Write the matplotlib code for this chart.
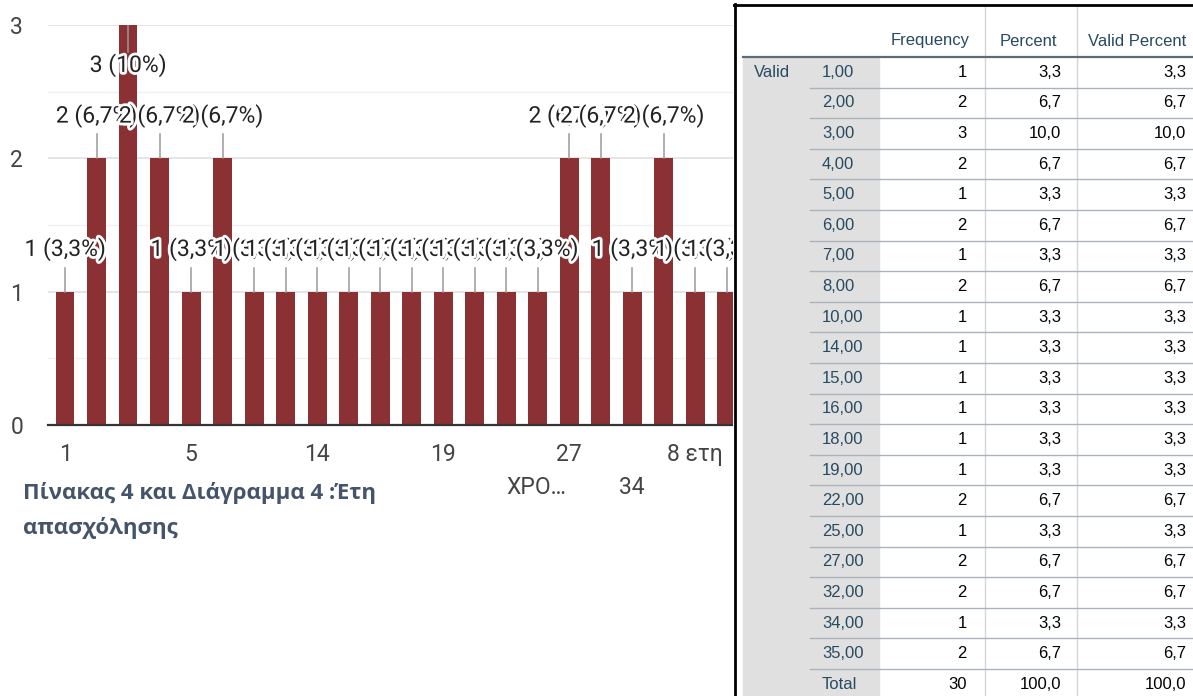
import numpy as np
import matplotlib
matplotlib.use("Agg")
import matplotlib.pyplot as plt
import matplotlib.patheffects as pe
from matplotlib.patches import Rectangle

# --- Google Forms bar chart (left) ---
categories = ["1", "2", "3", "4", "5", "6", "7", "10", "14", "15", "16",
              "18", "19", "22", "ΧΡΟ…", "25", "27", "32", "34", "35",
              "8 ετη", "22 χρόνια"]
counts = [1, 2, 3, 2, 1, 2, 1, 1, 1, 1, 1, 1, 1, 1, 1, 1, 2, 2, 1, 2, 1, 1]
total_answers = 30
ticks_row1 = [0, 4, 8, 12, 16, 20]
ticks_row2 = [14, 18]

# --- SPSS frequency table (right) ---
table_values = ["1,00", "2,00", "3,00", "4,00", "5,00", "6,00", "7,00", "8,00",
                "10,00", "14,00", "15,00", "16,00", "18,00", "19,00", "22,00",
                "25,00", "27,00", "32,00", "34,00", "35,00", "Total"]
table_freq = ["1", "2", "3", "2", "1", "2", "1", "2", "1", "1", "1", "1", "1",
              "1", "2", "1", "2", "2", "1", "2", "30"]
table_pct = ["3,3", "6,7", "10,0", "6,7", "3,3", "6,7", "3,3", "6,7", "3,3",
             "3,3", "3,3", "3,3", "3,3", "3,3", "6,7", "3,3", "6,7", "6,7",
             "3,3", "6,7", "100,0"]
table_valid_pct = table_pct
table_headers = ["Frequency", "Percent", "Valid Percent"]

caption_lines = ["Πίνακας 4 και Διάγραμμα 4 :Έτη", "απασχόλησης"]

BAR = "#8b3033"
W, H = 1193, 696
FS = 16.5

plt.rcParams["font.family"] = ["Roboto", "DejaVu Sans"]

fig = plt.figure(figsize=(W / 100, H / 100), dpi=100)
fig.patch.set_facecolor("white")

ax = fig.add_axes([48 / W, (H - 425) / H, (733 - 48) / W, 400 / H])
x = np.arange(len(counts))
ax.bar(x, counts, width=0.6, color=BAR, zorder=2)
ax.set_xlim(-0.54, 21.2)
ax.set_ylim(0, 3)

ax.set_yticks([0, 1, 2, 3])
ax.set_yticks([0.5, 1.5, 2.5], minor=True)
ax.grid(axis="y", which="major", color="#e3e3e3", lw=1.3)
ax.grid(axis="y", which="minor", color="#f0f0f0", lw=1.0)
ax.set_axisbelow(True)
for s in ["top", "right", "left"]:
    ax.spines[s].set_visible(False)
ax.spines["bottom"].set_color("#333333")
ax.spines["bottom"].set_linewidth(1.6)
ax.spines["bottom"].set_zorder(5)

ax.tick_params(axis="y", which="both", length=0, pad=18, labelsize=FS,
               labelcolor="#444444")
ax.set_xticks(ticks_row1, [categories[i] for i in ticks_row1])
ax.set_xticks(ticks_row2, [categories[i] for i in ticks_row2], minor=True)
ax.tick_params(axis="x", which="major", length=0, pad=13, labelsize=FS,
               labelcolor="#444444")
ax.tick_params(axis="x", which="minor", length=0, pad=37, labelsize=FS,
               labelcolor="#444444")
for lbl in ax.get_xticklabels(minor=True):
    if lbl.get_text().endswith("…"):
        lbl.set_ha("left")

# data labels with leader lines and white halo
halo = [pe.withStroke(linewidth=4, foreground="white")]
for i, n in enumerate(counts):
    pct = f"{n / total_answers * 100:.1f}".replace(".", ",")
    if pct.endswith(",0"):
        pct = pct[:-2]
    if n + 0.35 <= ax.get_ylim()[1]:
        ly, lend = n + 0.32, n + 0.18
    else:
        ly, lend = n - 0.3, n - 0.2
    ax.plot([i, i], [n, lend], color="#9a9a9a", lw=1.1, zorder=3)
    ax.text(i, ly, f"{n} ({pct}%)", ha="center", va="center", fontsize=FS,
            color="#222222", zorder=4, path_effects=halo)

# caption
for k, line in enumerate(caption_lines):
    fig.text(23 / W, 1 - (493 + 35 * k) / H, line, fontsize=16,
             fontweight="bold", color="#44546a", family="Open Sans",
             va="center", ha="left")

# --- table overlay ---
tx = fig.add_axes([733 / W, 0, (W - 733) / W, 1])
tx.set_xlim(0, W - 733)
tx.set_ylim(H, 0)
tx.set_axis_off()
tx.add_patch(Rectangle((0, 0), W - 733, H, color="white", zorder=0))

row_h = 30.6
head_y = 57
tx.add_patch(Rectangle((10, head_y), 136, H - head_y, color="#e0e0e0", zorder=1))
for vx in [252, 344]:
    tx.plot([vx, vx], [7, H], color="#d6d6d6", lw=1, zorder=2)
for k in range(1, len(table_values) + 1):
    yy = head_y + k * row_h
    tx.plot([77, W - 733], [yy, yy], color="#aab3bb", lw=1, zorder=2)
tx.plot([10, W - 733], [head_y, head_y], color="#5b6b78", lw=1.6, zorder=3)
tx.plot([1.5, 1.5], [4, H], color="black", lw=2, zorder=4)
tx.plot([0, W - 733], [5, 5], color="black", lw=2, zorder=4)

TFONT = "Liberation Sans"
for cx, h in zip([197, 295, 404], table_headers):
    tx.text(cx, 41, h, ha="center", va="center", fontsize=12, family=TFONT,
            color="#264a60", zorder=5)
tx.text(21, head_y + row_h / 2, "Valid", ha="left", va="center", fontsize=12,
        family=TFONT, color="#264a60", zorder=5)
for i in range(len(table_values)):
    yy = head_y + row_h / 2 + i * row_h
    tx.text(89, yy, table_values[i], ha="left", va="center", fontsize=12,
            family=TFONT, color="#264a60", zorder=5)
    tx.text(234, yy, table_freq[i], ha="right", va="center", fontsize=12,
            family=TFONT, color="#010205", zorder=5)
    tx.text(328, yy, table_pct[i], ha="right", va="center", fontsize=12,
            family=TFONT, color="#010205", zorder=5)
    tx.text(453, yy, table_valid_pct[i], ha="right", va="center", fontsize=12,
            family=TFONT, color="#010205", zorder=5)

fig.savefig("out.png", dpi=100, facecolor="white")
